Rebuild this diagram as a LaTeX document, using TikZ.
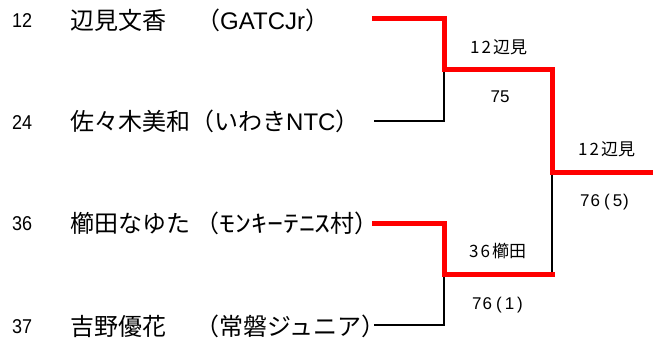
\documentclass[tikz,border=0pt]{standalone}
\usepackage{fontspec}
\usepackage{graphicx}
\newfontfamily\jp{Noto Sans CJK JP}
\newfontfamily\ar{Liberation Sans}
\newcommand{\lat}[1]{{\ar #1}}
\tikzset{
  win/.style={draw=red, line width=5pt, line join=miter, line cap=rect},
  lose/.style={draw=black, line width=2.2pt, line join=miter},
  numtxt/.style={anchor=base west, inner sep=0pt, font=\ar\fontsize{20}{20}\selectfont},
  nametxt/.style={anchor=base west, inner sep=0pt, font=\jp\fontsize{24}{24}\selectfont},
  lbltxt/.style={anchor=base west, inner sep=0pt, font=\jp\fontsize{17}{17}\selectfont},
  restxt/.style={anchor=base west, inner sep=0pt, font=\ar\fontsize{17}{17}\selectfont},
  sctxt/.style={anchor=center, inner sep=0pt, font=\ar\fontsize{17}{17}\selectfont}
}
\begin{document}
\begin{tikzpicture}[x=1pt,y=-1pt]
\useasboundingbox (0,0) rectangle (653,342);
% player numbers
\node[numtxt] (n1) at (12,28) {\scalebox{0.9}[1]{12}};
\node[numtxt] (n2) at (12,129.5) {\scalebox{0.9}[1]{24}};
\node[numtxt] (n3) at (12,230.5) {\scalebox{0.9}[1]{36}};
\node[numtxt] (n4) at (12,333.5) {\scalebox{0.9}[1]{37}};
% names
\node[nametxt] (a1) at (70,29.5) {辺見文香};
\node[nametxt] (a2) at (70,131) {佐々木美和（いわき\lat{NTC}）};
\node[nametxt] (a3) at (70,232) {櫛田なゆた};
\node[nametxt] (a4) at (70,335) {吉野優花};
% clubs
\node[nametxt] (c1) at (196,29.5) {（\lat{GATCJr}）};
\node[nametxt] (c3) at (195,232) {（\scalebox{1.33}[1]{ﾓﾝｷｰﾃﾆｽ}村）};
\node[nametxt] (c4) at (195,335) {（常磐ジュニア）};
% bracket points
\coordinate (p1) at (374,19);
\coordinate (p2) at (374,121);
\coordinate (p3) at (374,223);
\coordinate (p4) at (374,325);
\coordinate (m1) at (444,70);
\coordinate (m2) at (444,274);
\coordinate (s1) at (552,70);
\coordinate (s2) at (552,274);
\coordinate (f) at (552,172);
\coordinate (fe) at (653,172);
% losers
\draw[lose] (p2) -| (m1);
\draw[lose] (p4) -| (m2);
\draw[lose] (f) -- (552,271.5);
% winners
\draw[win] (p1) -| (m1) -- (s1) -- (f) -- (fe);
\draw[win] (p3) -| (m2) -- (s2);
% labels
\node[lbltxt] (w1) at (470,54) {1\kern2pt2\kern2pt辺見};
\node[sctxt] (r1) at (500,97) {75};
\node[lbltxt] (w2) at (578,156) {1\kern2pt2\kern2pt辺見};
\node[restxt] (r2) at (580,206) {7\kern1pt6\kern4pt(\kern3pt5\kern1pt)};
\node[lbltxt] (w3) at (469,257) {3\kern2pt6\kern2pt櫛田};
\node[restxt] (r3) at (472,309) {7\kern1pt6\kern4pt(\kern3pt1\kern3pt)};
\end{tikzpicture}
\end{document}
